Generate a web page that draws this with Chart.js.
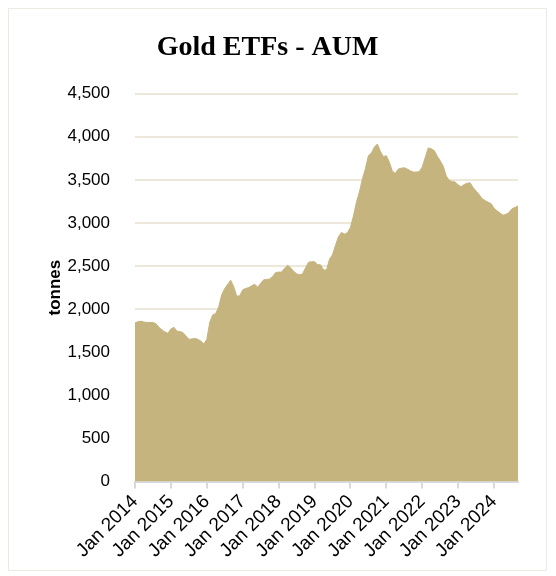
<!DOCTYPE html>
<html>
<head>
<meta charset="utf-8">
<script src="https://cdn.jsdelivr.net/npm/chart.js@4.4.1/dist/chart.umd.min.js"></script>
<style>
  html, body { margin: 0; padding: 0; background: #ffffff; }
  #frame { position: absolute; left: 8px; top: 8px; width: 539px; height: 563px; border: 1px solid #EDEAE2; box-sizing: border-box; }
  #wrap { position: absolute; left: 0; top: 0; width: 556px; height: 576px; }
</style>
</head>
<body>
<div id="frame"></div>
<div id="wrap"><canvas id="c" width="556" height="576"></canvas></div>
<script>
// ---- data ----
const years = [2014, 2015, 2016, 2017, 2018, 2019, 2020, 2021, 2022, 2023, 2024];
const monthNames = ['Jan','Feb','Mar','Apr','May','Jun','Jul','Aug','Sep','Oct','Nov','Dec'];
const tickLabels = ['Jan 2014','Jan 2015','Jan 2016','Jan 2017','Jan 2018','Jan 2019','Jan 2020','Jan 2021','Jan 2022','Jan 2023','Jan 2024'];
const yTicks = [0, 500, 1000, 1500, 2000, 2500, 3000, 3500, 4000, 4500];

// Gold ETF holdings, tonnes, monthly Jan 2014 - Sep 2024
const holdings = [
  1840, 1855, 1860, 1850, 1845, 1845, 1845, 1830, 1790, 1760, 1735, 1720, // 2014
  1770, 1790, 1745, 1740, 1730, 1690, 1650, 1655, 1660, 1650, 1630, 1595, // 2015
  1650, 1850, 1935, 1950, 2030, 2170, 2240, 2290, 2335, 2260, 2150, 2155, // 2016
  2225, 2240, 2250, 2270, 2290, 2255, 2300, 2340, 2345, 2350, 2380, 2425, // 2017
  2430, 2430, 2475, 2510, 2480, 2440, 2410, 2400, 2410, 2480, 2545, 2550, // 2018
  2550, 2515, 2515, 2455, 2455, 2580, 2630, 2740, 2840, 2890, 2870, 2885, // 2019
  2950, 3080, 3240, 3360, 3510, 3630, 3780, 3810, 3880, 3915, 3830, 3770, // 2020
  3780, 3705, 3600, 3575, 3625, 3635, 3640, 3625, 3605, 3590, 3590, 3595, // 2021
  3650, 3760, 3870, 3860, 3840, 3775, 3720, 3660, 3545, 3495, 3480, 3475, // 2022
  3440, 3420, 3445, 3460, 3465, 3410, 3370, 3330, 3280, 3260, 3240, 3225, // 2023
  3170, 3140, 3115, 3090, 3100, 3120, 3165, 3180, 3195                    // 2024
];

const categories = [];
years.forEach(y => monthNames.forEach(m => categories.push(m + ' ' + y)));
categories.length = holdings.length;

const fill = '#C6B47F';

new Chart(document.getElementById('c'), {
  type: 'line',
  data: {
    labels: categories,
    datasets: [{
      label: 'Gold ETFs',
      data: holdings,
      fill: 'origin',
      backgroundColor: fill,
      borderColor: fill,
      borderWidth: 1,
      pointRadius: 0,
      tension: 0
    }]
  },
  options: {
    responsive: false,
    animation: false,
    layout: { padding: { left: 17, right: 38, top: 0, bottom: 12 } },
    plugins: {
      legend: { display: false },
      tooltip: { enabled: false },
      title: {
        display: true,
        text: 'Gold ETFs - AUM',
        color: '#000',
        font: { family: '"Liberation Serif", serif', size: 28, weight: 'bold' },
        padding: { top: 31, bottom: 29 }
      }
    },
    scales: {
      x: {
        type: 'category',
        offset: false,
        afterFit: s => { s.paddingLeft = 0; s.paddingRight = 0; },
        grid: { drawOnChartArea: false, drawTicks: true, tickLength: 7, color: '#D9D9D9', lineWidth: 2 },
        border: { display: true, color: '#D9D9D9', width: 2 },
        ticks: {
          autoSkip: false,
          maxRotation: 45,
          minRotation: 45,
          padding: 2,
          color: '#000',
          font: { family: '"Liberation Sans", Arial, sans-serif', size: 19 },
          callback: function(v) {
            const l = this.getLabelForValue(v);
            return tickLabels.includes(l) ? l : null;
          }
        }
      },
      y: {
        min: 0,
        max: 4500,
        afterFit: s => { s.width = 118; },
        grid: { color: '#EEE8DA', lineWidth: 2, drawTicks: false },
        border: { display: false },
        afterBuildTicks: axis => { axis.ticks = yTicks.map(v => ({ value: v })); },
        ticks: {
          padding: 25,
          color: '#000',
          font: { family: '"Liberation Sans", Arial, sans-serif', size: 17 },
          callback: v => v.toLocaleString('en-US')
        },
        title: {
          display: true,
          text: 'tonnes',
          color: '#000',
          font: { family: '"Liberation Sans", Arial, sans-serif', size: 17, weight: 'bold' },
          padding: { top: 28, bottom: 3 }
        }
      }
    }
  }
});
</script>
</body>
</html>
